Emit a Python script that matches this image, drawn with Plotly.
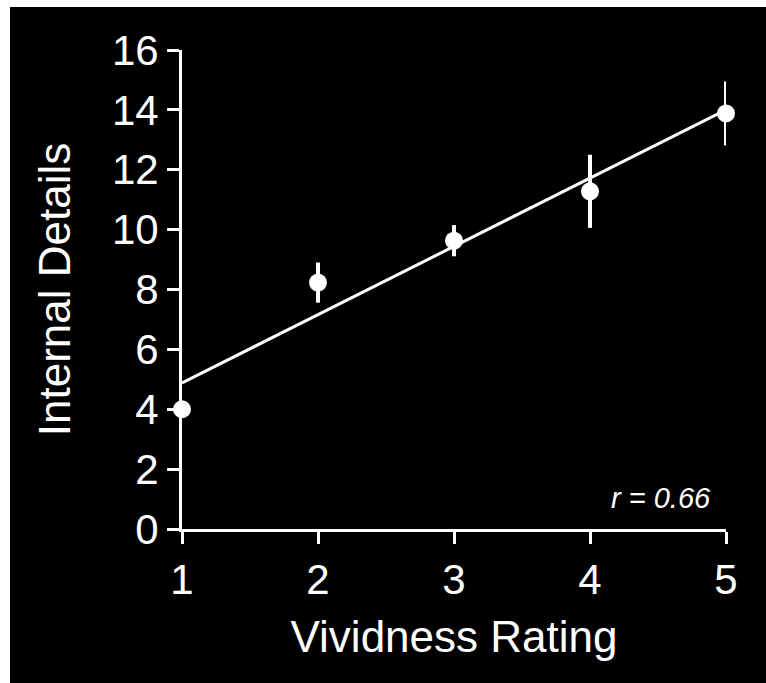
import plotly.graph_objects as go

# Data
vividness = [1, 2, 3, 4, 5]
internal_details = [4.0, 8.23, 9.63, 11.28, 13.88]
sem = [0.2, 0.67, 0.52, 1.22, 1.07]
fit_x = [1, 5]
fit_y = [4.88, 14.0]
x_ticks = [1, 2, 3, 4, 5]
y_ticks = [0, 2, 4, 6, 8, 10, 12, 14, 16]
r_label = "r = 0.66"

FONT = "Liberation Sans, Arial, sans-serif"

fig = go.Figure()

fig.add_trace(go.Scatter(
    x=fit_x, y=fit_y, mode="lines",
    line=dict(color="white", width=3),
    cliponaxis=False, showlegend=False, hoverinfo="skip",
))

fig.add_trace(go.Scatter(
    x=vividness, y=internal_details, mode="markers",
    marker=dict(color="white", size=18),
    error_y=dict(type="data", array=sem, visible=True, color="white",
                 thickness=4, width=0),
    cliponaxis=False, showlegend=False,
))

fig.add_annotation(
    x=4.52, y=1.04, xref="x", yref="y", text=r_label, showarrow=False,
    font=dict(family=FONT, size=29, color="white", style="italic"),
    xanchor="center", yanchor="middle",
)

W, H = 766, 683
L, T = 182, 50
R = W - 726
B = H - 529
pw, ph = W - L - R, H - T - B
# white strips at the left and top edge of the black panel
fig.add_shape(
    type="rect", xref="paper", yref="paper", layer="below",
    x0=-L / pw - 0.05, x1=(10 - L) / pw,
    y0=-B / ph - 0.05, y1=(H - B) / ph + 0.05,
    fillcolor="white", line=dict(width=0),
)
fig.add_shape(
    type="rect", xref="paper", yref="paper", layer="below",
    x0=-L / pw - 0.05, x1=(W - L) / pw + 0.05,
    y0=(H - B - 7) / ph, y1=(H - B) / ph + 0.05,
    fillcolor="white", line=dict(width=0),
)

fig.update_layout(
    width=W, height=H,
    margin=dict(l=L, r=R, t=T, b=B, pad=0),
    paper_bgcolor="black", plot_bgcolor="black",
    font=dict(family=FONT, color="white"),
    xaxis=dict(
        range=[1, 5], tickvals=x_ticks, ticktext=[str(v) for v in x_ticks],
        showgrid=False, zeroline=False, showline=True, linecolor="white",
        linewidth=3, ticks="outside", ticklen=12, tickwidth=3,
        tickcolor="white", tickfont=dict(size=42, color="white", family=FONT),
        title=dict(text="Vividness Rating", font=dict(size=44, color="white", family=FONT),
                   standoff=19),
        fixedrange=True,
    ),
    yaxis=dict(
        range=[0, 16], tickvals=y_ticks, ticktext=[str(v) for v in y_ticks],
        showgrid=False, zeroline=False, showline=True, linecolor="white",
        linewidth=3, ticks="outside", ticklen=12, tickwidth=3,
        tickcolor="white", tickfont=dict(size=42, color="white", family=FONT),
        title=dict(text="Internal Details", font=dict(size=44, color="white", family=FONT),
                   standoff=28),
        fixedrange=True,
    ),
)

fig.write_html(
    "out.html",
    config={"displayModeBar": False},
    post_script=(
        "document.documentElement.style.background='black';"
        "document.body.style.background='black';"
        "document.body.style.margin='0';"
        "document.body.style.overflow='hidden';"
    ),
)
